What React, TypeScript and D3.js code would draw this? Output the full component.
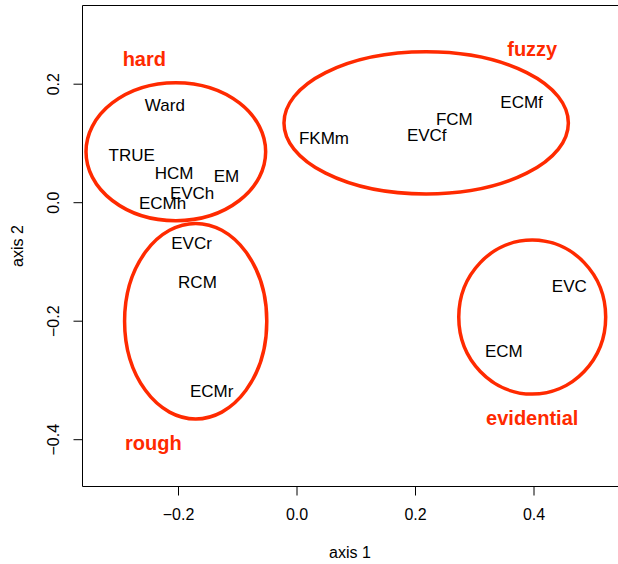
import React from "react";
import * as d3 from "d3";

const methods = ["Ward", "TRUE", "HCM", "EM", "EVCh", "ECMh", "EVCr", "RCM", "ECMr", "FKMm", "EVCf", "FCM", "ECMf", "EVC", "ECM"];
const axis1 = [-0.223, -0.279, -0.2076, -0.119, -0.177, -0.227, -0.178, -0.168, -0.144, 0.0456, 0.219, 0.2655, 0.379, 0.4596, 0.349];
const axis2 = [0.165, 0.080, 0.0506, 0.0455, 0.016, -0.001, -0.0675, -0.133, -0.317, 0.109, 0.114, 0.142, 0.170, -0.140, -0.2496];

const groups = ["hard", "fuzzy", "rough", "evidential"];
const groupLabelX = [-0.2577, 0.397, -0.2425, 0.397];
const groupLabelY = [0.2435, 0.260, -0.405, -0.3636];
const ellipseCx = [-0.2045, 0.218, -0.171, 0.397];
const ellipseCy = [0.086, 0.1347, -0.200, -0.193];
const ellipseRx = [0.1516, 0.240, 0.120, 0.124];
const ellipseRy = [0.1164, 0.120, 0.165, 0.130];

const xTicks = [-0.2, 0.0, 0.2, 0.4];
const yTicks = [-0.4, -0.2, 0.0, 0.2];

const W = 618, H = 564;
const left = 82.5, right = 617.5, top = 5.5, bottom = 486.5;
const RED = "#ff2a00";
const FONT = "'Liberation Sans', Arial, Helvetica, sans-serif";

const fmt = (v: number) => (v < 0 ? "\u2212" : "") + Math.abs(v).toFixed(1);

export default function App() {
  const x = d3.scaleLinear().domain([0, 0.2]).range([297, 415.5]);
  const y = d3.scaleLinear().domain([0, 0.2]).range([202.7, 84.2]);
  const ellipses = groups.map((g, i) => ({
    g,
    cx: x(ellipseCx[i]),
    cy: y(ellipseCy[i]),
    rx: Math.abs(x(ellipseRx[i]) - x(0)),
    ry: Math.abs(y(ellipseRy[i]) - y(0)),
  }));
  return (
    <svg width={W} height={H} style={{ position: "absolute", left: 0, top: 0, background: "#fff" }} fontFamily={FONT}>
      <rect x={0} y={0} width={W} height={H} fill="#fff" />
      <path d={`M${right + 5},${top} H${left} V${bottom} H${right + 5}`} fill="none" stroke="#000" strokeWidth={1} />
      {xTicks.map((t) => (
        <g key={"x" + t}>
          <line x1={x(t)} x2={x(t)} y1={bottom} y2={bottom + 9} stroke="#000" strokeWidth={1} />
          <text x={x(t)} y={bottom + 33} textAnchor="middle" fontSize={16}>{fmt(t)}</text>
        </g>
      ))}
      {yTicks.map((t) => (
        <g key={"y" + t}>
          <line x1={left - 9} x2={left} y1={y(t)} y2={y(t)} stroke="#000" strokeWidth={1} />
          <text transform={`translate(${left - 24},${y(t)}) rotate(-90)`} textAnchor="middle" fontSize={16}>{fmt(t)}</text>
        </g>
      ))}
      <text x={(left + right) / 2} y={558} textAnchor="middle" fontSize={16}>axis 1</text>
      <text transform={`translate(23,${(top + bottom) / 2}) rotate(-90)`} textAnchor="middle" fontSize={16}>axis 2</text>
      {ellipses.map((e) => (
        <ellipse key={e.g} cx={e.cx} cy={e.cy} rx={e.rx} ry={e.ry} fill="none" stroke={RED} strokeWidth={3.5} />
      ))}
      {methods.map((m, i) => (
        <text key={m} x={x(axis1[i])} y={y(axis2[i])} dy="0.36em" textAnchor="middle" fontSize={17}>{m}</text>
      ))}
      {groups.map((g, i) => (
        <text key={g} x={x(groupLabelX[i])} y={y(groupLabelY[i])} dy="0.36em" textAnchor="middle" fontSize={20} fontWeight="bold" fill={RED}>{g}</text>
      ))}
    </svg>
  );
}
